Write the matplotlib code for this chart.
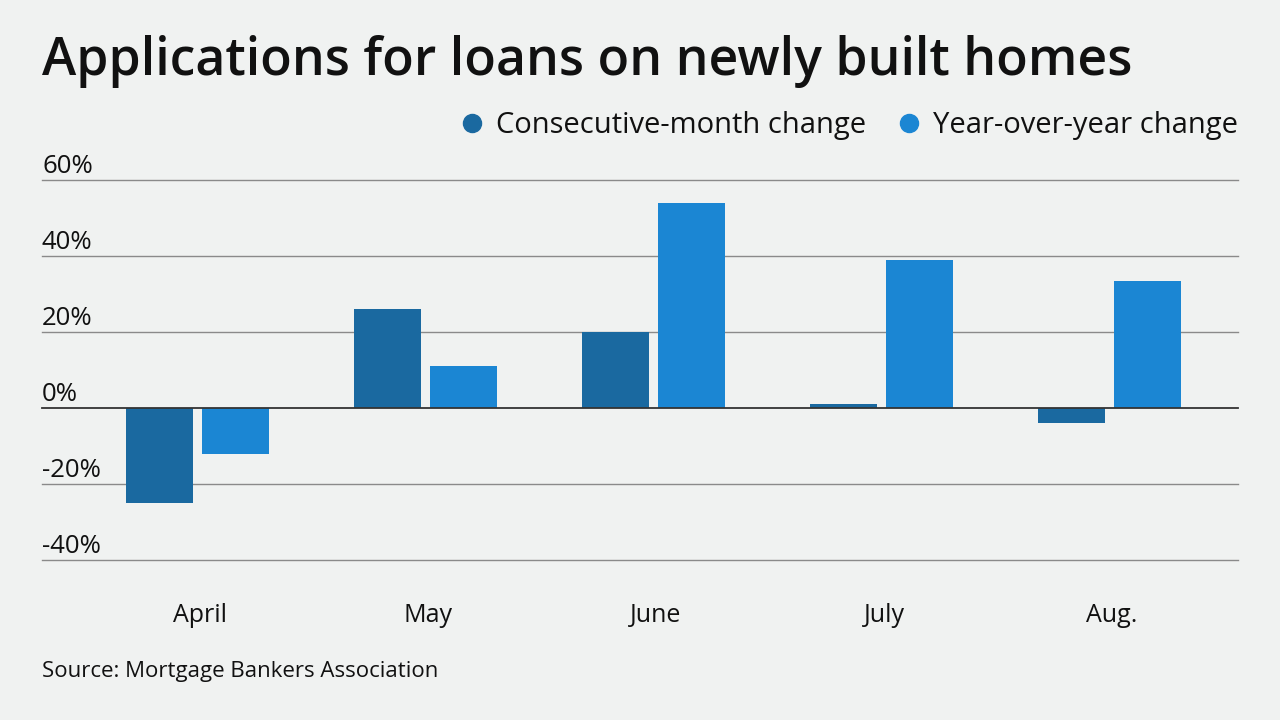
import matplotlib.pyplot as plt
from matplotlib.lines import Line2D
import numpy as np

months = ["April", "May", "June", "July", "Aug."]
consecutive = [-25, 26, 20, 1.1, -4]
year_over_year = [-12, 11, 54, 39, 33.4]
ticks = [-40, -20, 0, 20, 40, 60]

dark = "#1a69a0"
light = "#1b86d3"
bg = "#f0f2f1"

plt.rcParams['font.family'] = ['Open Sans', 'DejaVu Sans']

fig = plt.figure(figsize=(12.8, 7.2), dpi=100, facecolor=bg)
ax = fig.add_axes([42 / 1280, 1 - 560 / 720, (1238 - 42) / 1280, 380 / 720])
ax.set_facecolor(bg)

x = np.arange(len(months))
ax.bar(x - 0.178, consecutive, width=0.294, color=dark, zorder=3)
ax.bar(x + 0.156, year_over_year, width=0.294, color=light, zorder=3)

ax.set_xlim((42 - 200) / 228, (1238 - 200) / 228)
ax.set_ylim(-40, 60)

for t in ticks:
    ax.axhline(t, color="#333333" if t == 0 else "#8a8a8a", lw=1.3 if t == 0 else 1.0,
               zorder=4 if t == 0 else 1, clip_on=False)
    ax.text(0, t + 1.8, f"{t}%", transform=ax.get_yaxis_transform(), ha="left", va="baseline",
            fontsize=18.5, color="#111111")

for s in ax.spines.values():
    s.set_visible(False)
ax.set_yticks([])
ax.set_xticks(x)
ax.set_xticklabels(months, fontsize=18, color="#111111")
ax.tick_params(axis="x", length=0, pad=31)

fig.text(42 / 1280, 1 - 62 / 720, "Applications for loans on newly built homes", fontsize=37.3,
         fontweight="semibold", va="center", ha="left", color="#111111")
fig.text(42 / 1280, 1 - 672 / 720, "Source: Mortgage Bankers Association", fontsize=16,
         va="center", ha="left", color="#111111")

handles = [Line2D([], [], marker="o", ls="none", color=dark, markersize=13),
           Line2D([], [], marker="o", ls="none", color=light, markersize=13)]
fig.legend(handles, ["Consecutive-month change", "Year-over-year change"], ncol=2, frameon=False,
           loc="center right", bbox_to_anchor=(1264 / 1280, 1 - 126 / 720), fontsize=21,
           handletextpad=0.3, columnspacing=1.0, handlelength=1.0, labelcolor="#111111")

fig.savefig("out.png", dpi=100, facecolor=bg)
